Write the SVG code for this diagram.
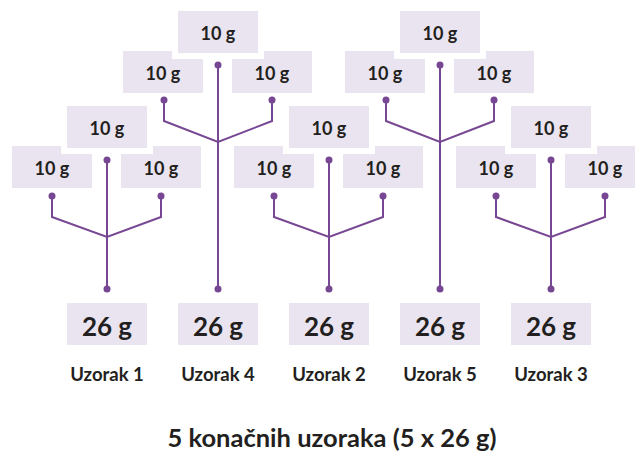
<svg xmlns="http://www.w3.org/2000/svg" width="635" height="451" viewBox="0 0 635 451">
<style>
.b{fill:#e9e4ef}
.t{fill:#e9e4ef;stroke:#fff;stroke-width:12;paint-order:stroke}
.s{font-family:Lato,"Open Sans","Liberation Sans",sans-serif;font-weight:bold;fill:#231f20;text-anchor:middle}
.n{font-size:18px}
.w{font-size:26px}
.u{font-size:18.5px}
.h{font-size:25.5px}
.c{fill:none;stroke:#774793;stroke-width:2}
.d{fill:#774793}
</style>
<defs>
<g id="side"><rect class="b" x="0" y="0" width="80" height="42"/><text class="s n" x="40" y="29">10 g</text></g>
<g id="top"><rect class="t" x="0" y="0" width="80" height="42"/><text class="s n" x="40" y="29">10 g</text></g>
</defs>
<g id="n1l" transform="translate(12,146)"><use href="#side"/></g>
<g id="n1r" transform="translate(121,146)"><use href="#side"/></g>
<g id="n1t" transform="translate(67,106)"><use href="#top"/></g>
<g id="n2l" transform="translate(234,146)"><use href="#side"/></g>
<g id="n2r" transform="translate(343,146)"><use href="#side"/></g>
<g id="n2t" transform="translate(289,106)"><use href="#top"/></g>
<g id="n3l" transform="translate(456,146)"><use href="#side"/></g>
<g id="n3r" transform="translate(565,146)"><use href="#side"/></g>
<g id="n3t" transform="translate(511,106)"><use href="#top"/></g>
<g id="n4l" transform="translate(123,51)"><use href="#side"/></g>
<g id="n4r" transform="translate(232,51)"><use href="#side"/></g>
<g id="n4t" transform="translate(178,11)"><use href="#top"/></g>
<g id="n5l" transform="translate(345,51)"><use href="#side"/></g>
<g id="n5r" transform="translate(454,51)"><use href="#side"/></g>
<g id="n5t" transform="translate(400,11)"><use href="#top"/></g>
<g id="r1"><rect class="b" x="67" y="303" width="80" height="42"/><text class="s w" x="107" y="336">26 g</text><text class="s u" x="107" y="381">Uzorak 1</text></g>
<g id="r4"><rect class="b" x="178" y="303" width="80" height="42"/><text class="s w" x="218" y="336">26 g</text><text class="s u" x="218" y="381">Uzorak 4</text></g>
<g id="r2"><rect class="b" x="289" y="303" width="80" height="42"/><text class="s w" x="329" y="336">26 g</text><text class="s u" x="329" y="381">Uzorak 2</text></g>
<g id="r5"><rect class="b" x="400" y="303" width="80" height="42"/><text class="s w" x="440" y="336">26 g</text><text class="s u" x="440" y="381">Uzorak 5</text></g>
<g id="r3"><rect class="b" x="511" y="303" width="80" height="42"/><text class="s w" x="551" y="336">26 g</text><text class="s u" x="551" y="381">Uzorak 3</text></g>
<g id="title"><text class="s h" x="332" y="447">5 konačnih uzoraka (5 x 26 g)</text></g>
<g id="connectors">
<path class="c" d="M107 160V289M52 196V217L107 237L161 217V196"/>
<path class="c" d="M329 160V289M274 196V217L329 237L383 217V196"/>
<path class="c" d="M551 160V289M496 196V217L551 237L605 217V196"/>
<path class="c" d="M218 65V289M164 100V121L218 142L272 121V100"/>
<path class="c" d="M440 65V289M386 100V121L440 142L494 121V100"/>
<g class="d">
<circle cx="107" cy="160" r="3.5"/><circle cx="52" cy="196" r="3.5"/><circle cx="161" cy="196" r="3.5"/><circle cx="107" cy="289" r="3.5"/>
<circle cx="329" cy="160" r="3.5"/><circle cx="274" cy="196" r="3.5"/><circle cx="383" cy="196" r="3.5"/><circle cx="329" cy="289" r="3.5"/>
<circle cx="551" cy="160" r="3.5"/><circle cx="496" cy="196" r="3.5"/><circle cx="605" cy="196" r="3.5"/><circle cx="551" cy="289" r="3.5"/>
<circle cx="218" cy="65" r="3.5"/><circle cx="164" cy="100" r="3.5"/><circle cx="272" cy="100" r="3.5"/><circle cx="218" cy="289" r="3.5"/>
<circle cx="440" cy="65" r="3.5"/><circle cx="386" cy="100" r="3.5"/><circle cx="494" cy="100" r="3.5"/><circle cx="440" cy="289" r="3.5"/>
</g>
</g>
</svg>
